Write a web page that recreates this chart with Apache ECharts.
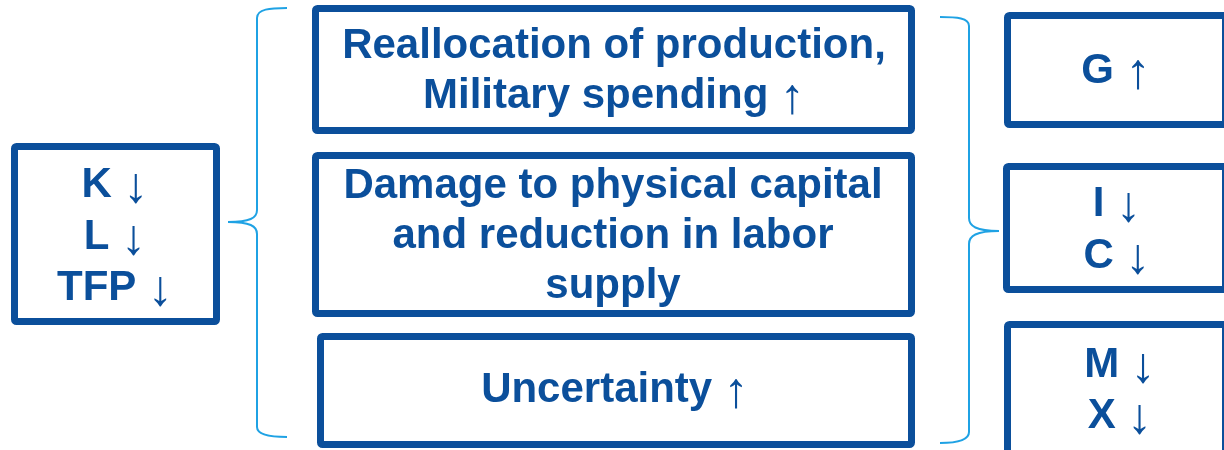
<!DOCTYPE html>
<html>
<head>
<meta charset="utf-8">
<script src="https://cdn.jsdelivr.net/npm/echarts@6/dist/echarts.min.js"></script>
<style>
  html, body { margin: 0; padding: 0; background: #ffffff; }
  #chart { width: 1224px; height: 450px; }
</style>
</head>
<body>
<div id="chart"></div>
<script>
// ---- content (text data) ----
const leftFactors = ['K ↓', 'L ↓', 'TFP ↓'];
const channelLines = [
  ['Reallocation of production,', 'Military spending ↑'],
  ['Damage to physical capital', 'and reduction in labor', 'supply'],
  ['Uncertainty ↑']
];
const outcomeLines = [
  ['G ↑'],
  ['I ↓', 'C ↓'],
  ['M ↓', 'X ↓']
];

// ---- layout (outer box edges, line centres) ----
const leftBox = { x0: 11, x1: 220, y0: 143, y1: 325, cx: 115, lines: [185, 237, 288] };
const channelBoxes = [
  { x0: 312, x1: 915, y0: 5,   y1: 134, cx: 614, lines: [46, 96] },
  { x0: 312, x1: 915, y0: 152, y1: 317, cx: 613, lines: [186, 236, 286] },
  { x0: 317, x1: 915, y0: 333, y1: 448, cx: 615, lines: [390] }
];
const outcomeBoxes = [
  { x0: 1004, x1: 1229, y0: 12,  y1: 128, cx: 1116, lines: [71] },
  { x0: 1003, x1: 1229, y0: 163, y1: 293, cx: 1117, lines: [204, 256] },
  { x0: 1004, x1: 1229, y0: 321, y1: 470, cx: 1120, lines: [365, 416] }
];

const DARK = '#0B4F9B';
const LIGHT = '#1FA2E4';
const BW = 7;
const FAMILY = '"Liberation Sans", Arial, sans-serif';
const FONT = 'bold 42px ' + FAMILY;

const graphic = [];

function richify(t) {
  return t.replace(/([↑↓])/g, '{a|$1}');
}

function addBox(b, texts) {
  graphic.push({
    type: 'rect',
    shape: { x: b.x0 + BW / 2, y: b.y0 + BW / 2, width: b.x1 - b.x0 - BW, height: b.y1 - b.y0 - BW, r: 2 },
    style: { fill: '#ffffff', stroke: DARK, lineWidth: BW }
  });
  texts.forEach((t, i) => {
    graphic.push({
      type: 'text',
      x: b.cx,
      y: b.lines[i],
      style: {
        text: richify(t),
        font: FONT,
        fill: DARK,
        align: 'center',
        verticalAlign: 'middle',
        rich: {
          a: { font: 'normal 50px ' + FAMILY, fill: DARK, padding: [7, 0, 0, 0] }
        }
      }
    });
  });
}

addBox(leftBox, leftFactors);
channelBoxes.forEach((b, i) => addBox(b, channelLines[i]));
outcomeBoxes.forEach((b, i) => addBox(b, outcomeLines[i]));

// braces built from lines and bezier curves
function brace(pts) {
  pts.forEach(p => {
    if (p.length === 4) {
      graphic.push({ type: 'line', shape: { x1: p[0], y1: p[1], x2: p[2], y2: p[3] },
        style: { stroke: LIGHT, lineWidth: 2 } });
    } else {
      graphic.push({ type: 'bezierCurve',
        shape: { x1: p[0], y1: p[1], cpx1: p[2], cpy1: p[3], cpx2: p[4], cpy2: p[5], x2: p[6], y2: p[7] },
        style: { stroke: LIGHT, lineWidth: 2, fill: null } });
    }
  });
}
brace([
  [287, 8, 270, 8, 257, 9, 257, 18],
  [257, 18, 257, 210],
  [257, 210, 257, 218, 250, 222, 228, 222],
  [228, 222, 250, 222, 257, 226, 257, 234],
  [257, 234, 257, 427],
  [257, 427, 257, 435, 270, 437, 287, 437]
]);
brace([
  [940, 17, 957, 17, 969, 18, 969, 26],
  [969, 26, 969, 218],
  [969, 218, 969, 226, 976, 231, 999, 231],
  [999, 231, 976, 231, 969, 236, 969, 244],
  [969, 244, 969, 432],
  [969, 432, 969, 440, 957, 443, 940, 443]
]);

const chart = echarts.init(document.getElementById('chart'), null, { renderer: 'canvas' });
chart.setOption({
  backgroundColor: '#ffffff',
  animation: false,
  graphic: graphic
});
</script>
</body>
</html>
